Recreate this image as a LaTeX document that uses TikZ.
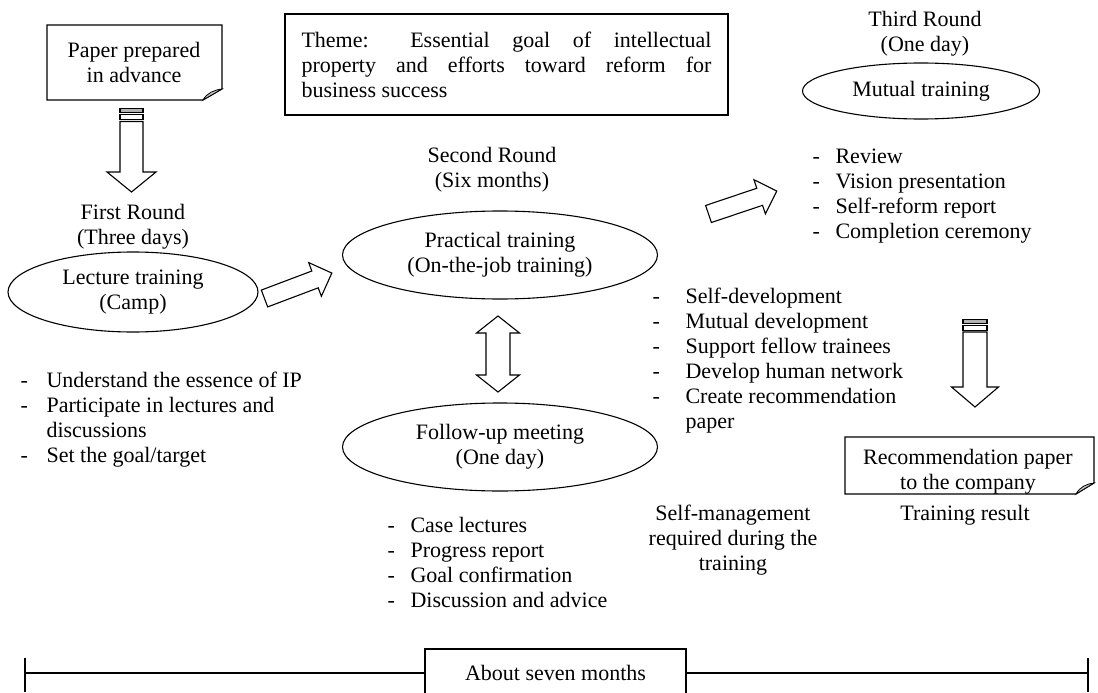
\documentclass[tikz,border=0pt]{standalone}
\usepackage{fontspec}
\setmainfont{Liberation Serif}
\usetikzlibrary{shapes.geometric}
\tikzset{
  txt/.style={inner sep=0pt, anchor=base west},
  ctext/.style={inner sep=0pt, align=center},
  oval/.style={draw, ellipse, inner sep=0pt},
  frame/.style={draw, rectangle, inner sep=0pt},
  barrowline/.style={draw, fill=white, line join=miter},
}
% block arrow: tail centre x,y ; angle ; length ; shaft width ; head width ; head length
\newcommand\myblockarrow[7]{%
  \draw[barrowline, shift={(#1,#2)}, rotate=#3]
    (0,{-#5/2}) -- ({#4-#7},{-#5/2}) -- ({#4-#7},{-#6/2}) -- (#4,0)
    -- ({#4-#7},{#6/2}) -- ({#4-#7},{#5/2}) -- (0,{#5/2}) -- cycle;}
\begin{document}
\begin{tikzpicture}[x=1pt,y=-1pt, line width=1.1pt, font=\fontsize{22}{25}\selectfont]
\useasboundingbox (0,0) rectangle (1098,693);

% ---- paper prepared in advance
\draw (47,25) -- (222,25) -- (222,89) -- (203,100) -- (47,100) -- cycle;
\draw[fill=gray!45, line width=0.8pt] (222,89) .. controls (214,90) and (207,93) .. (203,100) -- cycle;
\node[ctext] (paper1) at (134,62) {Paper prepared\\in advance};

% bars + down arrow
\node[frame, fill=gray!60, minimum width=23, minimum height=3.5] (bar1a) at (131.5,110.5) {};
\node[frame, minimum width=23, minimum height=4.5] (bar1b) at (131.5,117) {};
\myblockarrow{131.5}{121.5}{-90}{70.5}{23}{49}{20}

\node[ctext] (first) at (133,227) {First Round\\(Three days)};
\node[oval, minimum width=250, minimum height=80] (lecture) at (133,292) {};
\node[ctext] (lecturetxt) at (lecture.center) {Lecture training\\(Camp)};

% lecture bullets
\node[txt] (l1d) at (20,387) {-};  \node[txt] (l1) at (46,387) {Understand the essence of IP};
\node[txt] (l2d) at (20,412) {-};  \node[txt] (l2) at (46,412) {Participate in lectures and};
\node[txt] (l2b) at (46,437) {discussions};
\node[txt] (l3d) at (20,462) {-};  \node[txt] (l3) at (46,462) {Set the goal/target};

% arrow lecture -> practical
\myblockarrow{264.5}{298.5}{20.7}{72}{18}{36}{18}

% ---- theme
\node[frame, text width=410, align=justify, minimum width=443, minimum height=101, inner xsep=16.5pt] (theme) at (506.5,64.5)
 {Theme: Essential goal of intellectual\linebreak property and efforts toward reform for\linebreak business success};

% ---- second round
\node[ctext] (second) at (492,170) {Second Round\\(Six months)};
\node[oval, minimum width=315, minimum height=88] (practical) at (500,255) {};
\node[ctext] (practicaltxt) at (practical.center) {Practical training\\(On-the-job training)};
\node[oval, minimum width=315, minimum height=88] (follow) at (500,447) {};
\node[ctext] (followtxt) at (follow.center) {Follow-up meeting\\(One day)};
% double arrow between them
\draw[barrowline] (498,316) -- (519.5,333) -- (510,333) -- (510,375) -- (519.5,375) -- (498,392)
   -- (476.5,375) -- (486,375) -- (486,333) -- (476.5,333) -- cycle;

% follow-up bullets
\node[txt] (f1d) at (387,532) {-}; \node[txt] (f1) at (410,532) {Case lectures};
\node[txt] (f2d) at (387,557) {-}; \node[txt] (f2) at (410,557) {Progress report};
\node[txt] (f3d) at (387,582) {-}; \node[txt] (f3) at (410,582) {Goal confirmation};
\node[txt] (f4d) at (387,607) {-}; \node[txt] (f4) at (410,607) {Discussion and advice};

% middle bullets
\node[txt] (m1d) at (652,303) {-}; \node[txt] (m1) at (685,303) {Self-development};
\node[txt] (m2d) at (652,328) {-}; \node[txt] (m2) at (685,328) {Mutual development};
\node[txt] (m3d) at (652,353) {-}; \node[txt] (m3) at (685,353) {Support fellow trainees};
\node[txt] (m4d) at (652,378) {-}; \node[txt] (m4) at (685,378) {Develop human network};
\node[txt] (m5d) at (652,403) {-}; \node[txt] (m5) at (685,403) {Create recommendation};
\node[txt] (m5b) at (685,428) {paper};

\node[ctext] (selfman) at (733,540) {Self-management\\required during the\\training};

% arrow practical -> third
\myblockarrow{708.5}{214}{18.6}{72}{18}{36}{18}

% ---- third round
\node[ctext] (third) at (925,34) {Third Round\\(One day)};
\node[oval, minimum width=237, minimum height=56] (mutual) at (921,91) {};
\node[ctext] (mutualtxt) at (mutual.center) {Mutual training};
\node[txt] (t1d) at (812,163) {-}; \node[txt] (t1) at (835,163) {Review};
\node[txt] (t2d) at (812,188) {-}; \node[txt] (t2) at (835,188) {Vision presentation};
\node[txt] (t3d) at (812,213) {-}; \node[txt] (t3) at (835,213) {Self-reform report};
\node[txt] (t4d) at (812,238) {-}; \node[txt] (t4) at (835,238) {Completion ceremony};

% bars + down arrow right
\node[frame, fill=gray!60, minimum width=24, minimum height=3.5] (bar2a) at (975,321.5) {};
\node[frame, minimum width=24, minimum height=4.5] (bar2b) at (975,328) {};
\myblockarrow{975}{332}{-90}{75}{24}{47}{20}

% ---- recommendation paper
\draw (845,437) -- (1094,437) -- (1094,483) -- (1076,494) -- (845,494) -- cycle;
\draw[fill=gray!45, line width=0.8pt] (1094,483) .. controls (1086,484) and (1080,487) .. (1076,494) -- cycle;
\node[ctext] (recom) at (968,472) {Recommendation paper\\to the company};
\node[ctext] (result) at (965,515) {Training result};

% ---- timeline
\coordinate (tl) at (25,673);
\coordinate (tr) at (1088,673);
\coordinate (bl) at (425,673);
\coordinate (br) at (686,673);
\draw (25,658) -- (25,692);
\draw (1088,658) -- (1088,692);
\draw (tl) -- (bl);
\draw (br) -- (tr);
\draw (425,694) -- (425,649) -- (686,649) -- (686,694);
\node[inner sep=0pt] (months) at (555.5,673) {About seven months};
\end{tikzpicture}
\end{document}
